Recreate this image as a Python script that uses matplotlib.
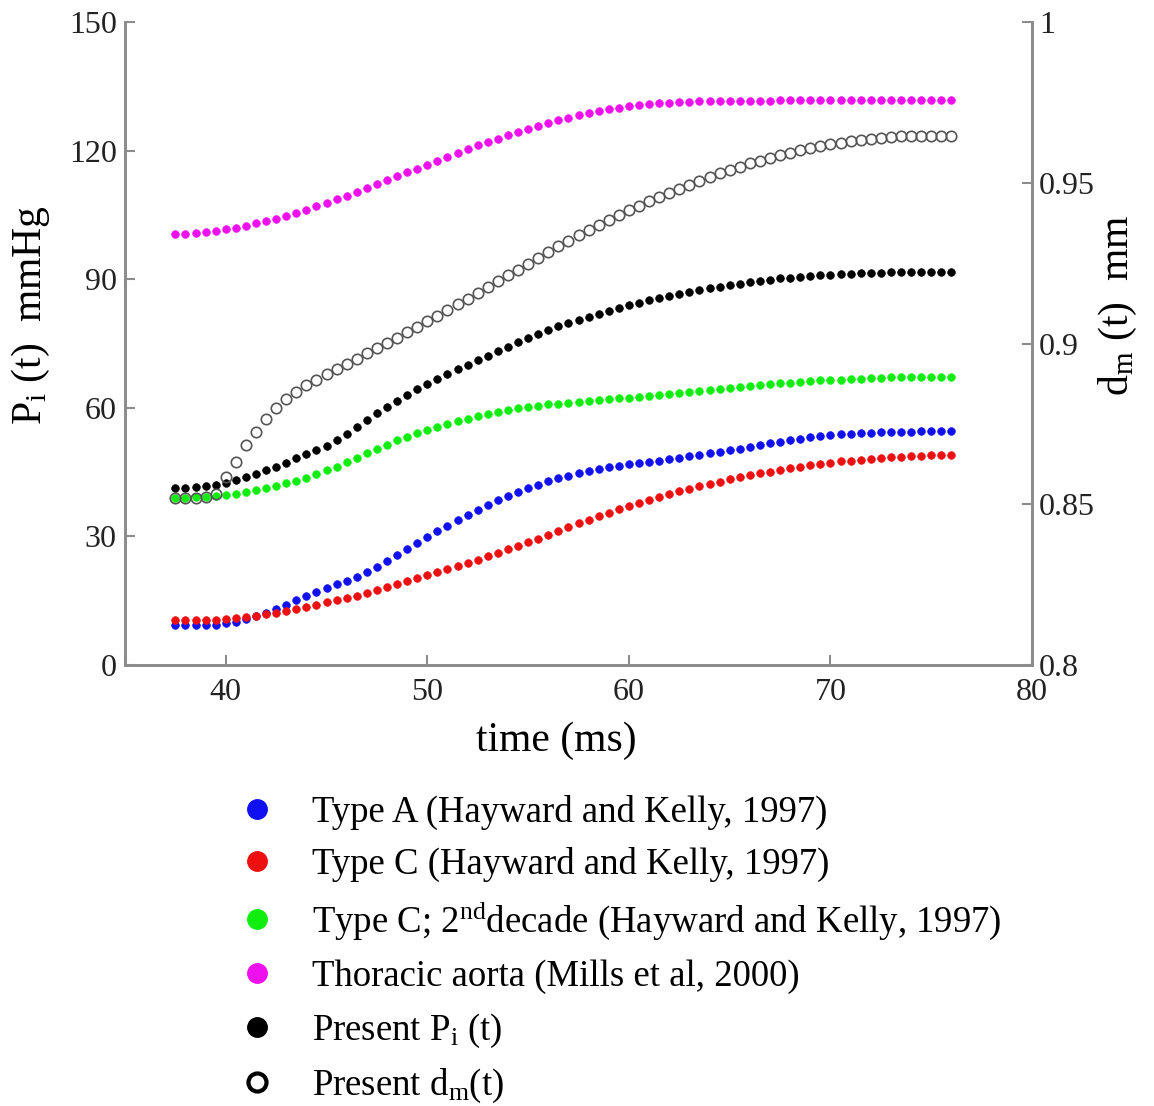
import numpy as np
import matplotlib
matplotlib.use("Agg")
import matplotlib.pyplot as plt
from matplotlib.lines import Line2D

plt.rcParams['font.family'] = ['Liberation Serif', 'DejaVu Serif']
plt.rcParams['mathtext.fontset'] = 'custom'
plt.rcParams['mathtext.rm'] = 'Liberation Serif'
plt.rcParams['mathtext.it'] = 'Liberation Serif:italic'

# time grid (ms), one dot every 0.5 ms
time_ms = np.arange(37.5, 76.01, 0.5)

# Type A (Hayward and Kelly, 1997), mmHg
type_a = [9.4, 9.3, 9.3, 9.3, 9.4, 9.7, 10.1, 10.7, 11.4, 12.2,
          13.1, 14.1, 15.1, 16.1, 17.0, 17.9, 18.8, 19.6, 20.6, 21.7,
          22.9, 24.2, 25.6, 27.0, 28.4, 29.8, 31.2, 32.5, 33.8, 35.0,
          36.2, 37.3, 38.4, 39.4, 40.4, 41.3, 42.1, 42.9, 43.6, 44.2,
          44.8, 45.3, 45.7, 46.1, 46.5, 46.8, 47.1, 47.4, 47.7, 48.0,
          48.4, 48.7, 49.0, 49.4, 49.7, 50.1, 50.5, 50.9, 51.3, 51.7,
          52.1, 52.5, 52.8, 53.1, 53.4, 53.6, 53.8, 54.0, 54.1, 54.2,
          54.3, 54.4, 54.4, 54.4, 54.5, 54.5, 54.5, 54.5]

# Type C (Hayward and Kelly, 1997), mmHg
type_c = [10.4, 10.4, 10.4, 10.5, 10.6, 10.7, 10.9, 11.2, 11.5, 11.8,
          12.2, 12.6, 13.1, 13.6, 14.1, 14.6, 15.1, 15.6, 16.2, 16.8,
          17.5, 18.2, 18.9, 19.6, 20.3, 21.0, 21.7, 22.4, 23.1, 23.8,
          24.6, 25.4, 26.2, 27.0, 27.8, 28.6, 29.5, 30.4, 31.3, 32.2,
          33.1, 33.9, 34.7, 35.5, 36.3, 37.1, 37.8, 38.5, 39.2, 39.9,
          40.5, 41.1, 41.7, 42.3, 42.8, 43.3, 43.8, 44.3, 44.7, 45.1,
          45.5, 45.9, 46.3, 46.6, 46.9, 47.2, 47.5, 47.7, 47.9, 48.1,
          48.3, 48.5, 48.6, 48.7, 48.8, 48.9, 49.0, 49.0]

# Type C; 2nd decade (Hayward and Kelly, 1997), mmHg
type_c_2nd = [39.0, 39.0, 39.1, 39.2, 39.4, 39.7, 40.0, 40.4, 40.8, 41.3,
              41.8, 42.4, 43.0, 43.7, 44.5, 45.4, 46.3, 47.3, 48.3, 49.4,
              50.4, 51.4, 52.4, 53.3, 54.1, 54.9, 55.6, 56.3, 56.9, 57.5,
              58.1, 58.6, 59.1, 59.5, 59.9, 60.2, 60.5, 60.8, 61.0, 61.2,
              61.4, 61.6, 61.8, 62.0, 62.2, 62.4, 62.6, 62.8, 63.0, 63.2,
              63.5, 63.7, 63.9, 64.2, 64.4, 64.6, 64.9, 65.1, 65.3, 65.5,
              65.7, 65.9, 66.0, 66.2, 66.4, 66.5, 66.6, 66.7, 66.8, 66.9,
              67.0, 67.1, 67.1, 67.2, 67.2, 67.3, 67.3, 67.3]

# Thoracic aorta (Mills et al, 2000), mmHg
thoracic = [100.5, 100.6, 100.8, 101.0, 101.3, 101.6, 102.0, 102.5, 103.0, 103.5,
            104.1, 104.8, 105.5, 106.2, 107.0, 107.8, 108.6, 109.5, 110.4, 111.3,
            112.2, 113.1, 114.0, 114.9, 115.8, 116.7, 117.6, 118.5, 119.4, 120.3,
            121.2, 122.0, 122.8, 123.6, 124.4, 125.1, 125.8, 126.5, 127.1, 127.7,
            128.2, 128.7, 129.2, 129.6, 130.0, 130.3, 130.6, 130.8, 131.0, 131.2,
            131.3, 131.4, 131.5, 131.6, 131.6, 131.6, 131.6, 131.6, 131.6, 131.6,
            131.7, 131.7, 131.7, 131.7, 131.7, 131.7, 131.7, 131.7, 131.7, 131.7,
            131.7, 131.7, 131.7, 131.7, 131.7, 131.7, 131.7, 131.7]

# Present P_i(t), mmHg
present_pi = [41.3, 41.4, 41.5, 41.7, 42.0, 42.5, 43.1, 43.8, 44.6, 45.4,
              46.3, 47.2, 48.2, 49.2, 50.2, 51.0, 52.5, 54.0, 55.6, 57.2,
              58.8, 60.3, 61.7, 63.0, 64.3, 65.6, 66.8, 67.9, 69.0, 70.0,
              71.1, 72.2, 73.3, 74.3, 75.3, 76.3, 77.2, 78.1, 79.0, 79.8,
              80.6, 81.3, 82.0, 82.7, 83.3, 83.9, 84.5, 85.1, 85.6, 86.1,
              86.6, 87.1, 87.5, 87.9, 88.3, 88.7, 89.0, 89.3, 89.6, 89.9,
              90.2, 90.4, 90.6, 90.8, 91.0, 91.1, 91.2, 91.3, 91.4, 91.5,
              91.5, 91.6, 91.6, 91.6, 91.7, 91.7, 91.7, 91.7]

# Present d_m(t), mm (right axis)
present_dm = [0.8520, 0.8520, 0.8520, 0.8522, 0.8532, 0.8585, 0.8630, 0.8683, 0.8725, 0.8765,
              0.8798, 0.8826, 0.8850, 0.8870, 0.8888, 0.8905, 0.8921, 0.8937, 0.8953, 0.8969,
              0.8985, 0.9001, 0.9018, 0.9035, 0.9052, 0.9069, 0.9086, 0.9104, 0.9122, 0.9140,
              0.9158, 0.9176, 0.9194, 0.9212, 0.9230, 0.9248, 0.9266, 0.9284, 0.9302, 0.9319,
              0.9336, 0.9352, 0.9368, 0.9384, 0.9399, 0.9414, 0.9428, 0.9442, 0.9456, 0.9469,
              0.9482, 0.9494, 0.9506, 0.9518, 0.9529, 0.9540, 0.9550, 0.9560, 0.9569, 0.9578,
              0.9586, 0.9594, 0.9601, 0.9608, 0.9614, 0.9620, 0.9625, 0.9630, 0.9634, 0.9637,
              0.9640, 0.9642, 0.9644, 0.9645, 0.9646, 0.9647, 0.9647, 0.9647]

labels = ['Type A (Hayward and Kelly, 1997)',
          'Type C (Hayward and Kelly, 1997)',
          'Type C; 2$^{\\mathrm{nd}}$decade (Hayward and Kelly, 1997)',
          'Thoracic aorta (Mills et al, 2000)',
          'Present P$_\\mathrm{i}$ (t)',
          'Present d$_\\mathrm{m}$(t)']
colors = ['#1010f0', '#ee1010', '#10ee10', '#ee10ee', 'black']

spine_col = '#8c8c8c'
fig = plt.figure(figsize=(11.54, 11.06), dpi=100)
ax = fig.add_axes([0.1083, 0.3987, 0.7860, 0.5814])
ax2 = ax.twinx()

series = [type_a, type_c, type_c_2nd, thoracic, present_pi]
for vals, col in zip(series, colors):
    ax.plot(time_ms, vals, linestyle='none', marker='o', markersize=5.5,
            markerfacecolor=col, markeredgecolor=col, markeredgewidth=0.5)
ax2.plot(time_ms, present_dm, linestyle='none', marker='o', markersize=7.5,
         markerfacecolor='none', markeredgecolor='#555555', markeredgewidth=1.2)

ax.set_xlim(35, 80)
ax.set_ylim(0, 150)
ax2.set_ylim(0.8, 1.0)
ax.set_xticks([40, 50, 60, 70, 80])
ax.set_yticks([0, 30, 60, 90, 120, 150])
ax2.set_yticks([0.8, 0.85, 0.9, 0.95, 1.0])
ax2.set_yticklabels(['0.8', '0.85', '0.9', '0.95', '1'])

for a in (ax, ax2):
    a.spines['top'].set_visible(False)
    for s in ('left', 'right', 'bottom'):
        a.spines[s].set_color(spine_col)
        a.spines[s].set_linewidth(2)
    a.tick_params(direction='in', length=7, width=1.5, color=spine_col,
                  labelsize=23, labelcolor='#222222')
ax.tick_params(axis='x', pad=9)
ax.tick_params(axis='y', pad=6)
ax2.tick_params(axis='y', pad=5)

ax.set_xlabel('time (ms)', fontsize=30)
ax.xaxis.set_label_coords(0.475, -0.088)
ax.set_ylabel('P$_\\mathrm{i}$ (t)  mmHg', fontsize=30)
ax.yaxis.set_label_coords(-0.08, 0.545)
ax2.set_ylabel('d$_\\mathrm{m}$ (t)  mm', fontsize=30, rotation=90)
ax2.yaxis.set_label_coords(1.072, 0.56)

handles = [Line2D([], [], linestyle='none', marker='o', markersize=14,
                  markerfacecolor=c, markeredgecolor=c) for c in colors]
handles.append(Line2D([], [], linestyle='none', marker='o', markersize=13,
                      markerfacecolor='none', markeredgecolor='black',
                      markeredgewidth=3))
fig.legend(handles, labels, loc='upper left', bbox_to_anchor=(0.191, 0.298),
           frameon=False, fontsize=26.5, labelspacing=0.47, handletextpad=1.0,
           handlelength=1.0, borderpad=0)

fig.savefig('out.png', dpi=100)
